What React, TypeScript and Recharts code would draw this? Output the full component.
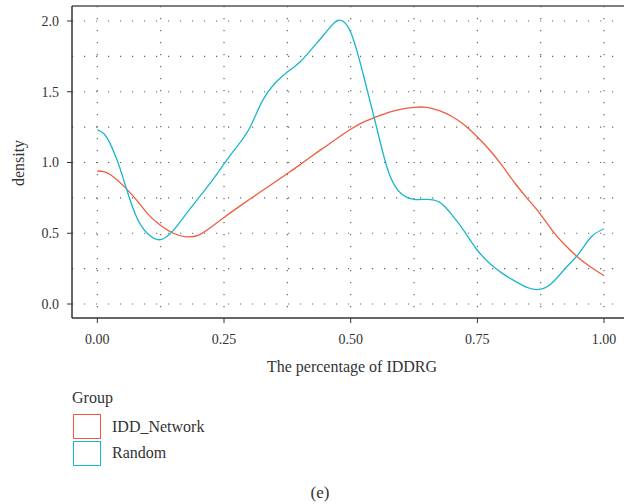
import { LineChart, Line, XAxis, YAxis, CartesianGrid, ReferenceLine } from 'recharts'

// density estimates
const X_VALUES = [
  0, 0.0125, 0.025, 0.0375, 0.05, 0.075, 0.1, 0.125, 0.15, 0.175, 0.2, 0.225,
  0.25, 0.275, 0.3, 0.325, 0.35, 0.375, 0.4, 0.425, 0.45, 0.475,
  0.5, 0.525, 0.55, 0.575, 0.6, 0.625, 0.65, 0.675, 0.7, 0.725,
  0.75, 0.775, 0.8, 0.825, 0.85, 0.875, 0.9, 0.925, 0.95, 0.975, 1,
]
const IDD_NETWORK = [
  0.94, 0.935, 0.915, 0.882, 0.84, 0.745, 0.635, 0.555, 0.5, 0.475, 0.487, 0.545,
  0.612, 0.676, 0.738, 0.8, 0.86, 0.922, 0.985, 1.05, 1.112, 1.175,
  1.235, 1.285, 1.322, 1.355, 1.378, 1.39, 1.39, 1.366, 1.325, 1.263,
  1.18, 1.085, 0.972, 0.85, 0.74, 0.632, 0.51, 0.41, 0.325, 0.258, 0.2,
]
const RANDOM = [
  1.23, 1.205, 1.135, 1.03, 0.9, 0.635, 0.495, 0.455, 0.52, 0.635, 0.75, 0.865,
  0.99, 1.11, 1.24, 1.43, 1.558, 1.64, 1.71, 1.81, 1.915, 2.005,
  1.92, 1.62, 1.265, 0.93, 0.78, 0.74, 0.74, 0.72, 0.63, 0.51,
  0.38, 0.285, 0.215, 0.16, 0.115, 0.105, 0.158, 0.258, 0.355, 0.475, 0.532,
]

const X_TICKS = [0, 0.25, 0.5, 0.75, 1]
const Y_TICKS = [0, 0.5, 1, 1.5, 2]
const X_GRID = [0, 0.125, 0.25, 0.375, 0.5, 0.625, 0.75, 0.875, 1]
const Y_GRID = [0, 0.25, 0.5, 0.75, 1, 1.25, 1.5, 1.75, 2]

const GROUPS = ['IDD_Network', 'Random']
const COLORS = ['#F05B3F', '#19B7CB']

const X_DOMAIN = [-0.05, 1.0394]
const Y_DOMAIN = [-0.0988, 2.106]

const FONT = "'Liberation Serif', 'DejaVu Serif', serif"
const INK = '#333'

const data = X_VALUES.map((x, i) => ({
  x,
  IDD_Network: IDD_NETWORK[i],
  Random: RANDOM[i],
}))

const centered = (left: number, top: number, size: number) => ({
  position: 'absolute' as const,
  left,
  top,
  transform: 'translate(-50%, -50%)',
  fontSize: size,
  whiteSpace: 'nowrap' as const,
  color: INK,
  lineHeight: 1,
})

export default function App() {
  return (
    <div style={{ position: 'absolute', left: 0, top: 0, width: 624, height: 504, fontFamily: FONT, background: '#fff' }}>
      <LineChart width={624} height={504} data={data} margin={{ top: 6, right: 0, left: 0, bottom: 146 }}>
        <CartesianGrid
          horizontalValues={Y_GRID}
          verticalValues={X_GRID}
          stroke="#666"
          strokeWidth={1.2}
          strokeDasharray="1.2 10.8"
        />
        <XAxis
          dataKey="x"
          type="number"
          domain={X_DOMAIN}
          allowDataOverflow
          ticks={X_TICKS}
          tickFormatter={(v: number) => v.toFixed(2)}
          height={40}
          tickSize={5}
          tickMargin={11}
          axisLine={{ stroke: INK, strokeWidth: 1.5 }}
          tickLine={{ stroke: INK }}
          tick={{ fill: INK, fontSize: 14, fontFamily: FONT }}
        />
        <YAxis
          type="number"
          domain={Y_DOMAIN}
          allowDataOverflow
          ticks={Y_TICKS}
          tickFormatter={(v: number) => v.toFixed(1)}
          width={72}
          tickSize={5}
          tickMargin={8}
          axisLine={{ stroke: INK, strokeWidth: 1.5 }}
          tickLine={{ stroke: INK }}
          tick={{ fill: INK, fontSize: 14, fontFamily: FONT }}
        />
        {/* top edge of the panel */}
        <ReferenceLine y={Y_DOMAIN[1]} stroke="#555" strokeWidth={1.5} />
        {GROUPS.map((g, i) => (
          <Line
            key={g}
            dataKey={g}
            type="natural"
            stroke={COLORS[i]}
            strokeWidth={1.3}
            dot={false}
            activeDot={false}
            isAnimationActive={false}
          />
        ))}
      </LineChart>

      {/* axis titles */}
      <div style={{ ...centered(19, 163, 16), transform: 'translate(-50%, -50%) rotate(-90deg)' }}>density</div>
      <div style={centered(352, 367, 16)}>The percentage of IDDRG</div>

      {/* legend */}
      <div style={{ position: 'absolute', left: 72, top: 390, fontSize: 16, color: INK, lineHeight: 1 }}>Group</div>
      {GROUPS.map((g, i) => (
        <div key={g}>
          <div
            style={{
              position: 'absolute',
              left: 73,
              top: 414 + i * 27,
              width: 28,
              height: 25,
              boxSizing: 'border-box',
              border: `1.5px solid ${COLORS[i]}`,
            }}
          />
          <div style={{ position: 'absolute', left: 112, top: 419 + i * 26, fontSize: 16, color: INK, lineHeight: 1 }}>
            {g}
          </div>
        </div>
      ))}

      <div style={centered(320, 492, 17)}>(e)</div>
    </div>
  )
}
